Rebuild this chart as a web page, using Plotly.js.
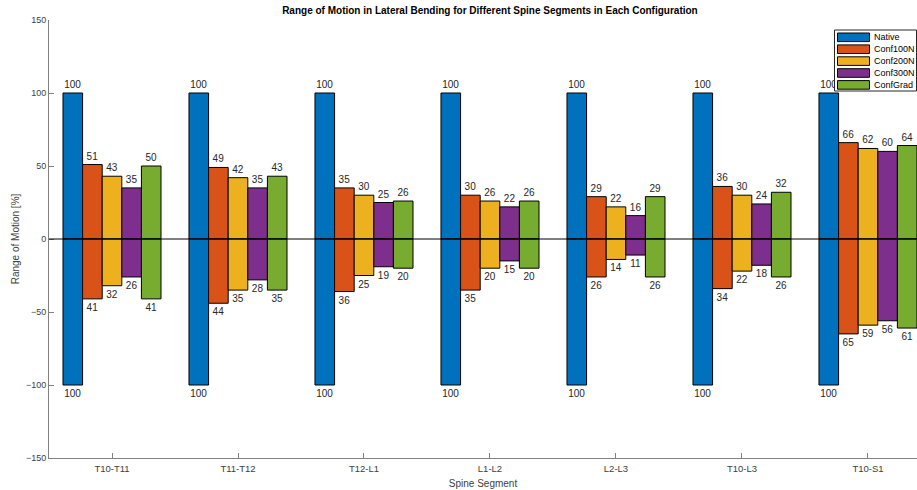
<!DOCTYPE html>
<html>
<head>
<meta charset="utf-8">
<script src="https://cdn.plot.ly/plotly-3.0.1.min.js"></script>
<style>html,body{margin:0;padding:0;overflow:hidden;background:#fff}#chart{width:917px;height:490px}</style>
</head>
<body>
<div id="chart"></div>
<script>
const segments = ["T10-T11","T11-T12","T12-L1","L1-L2","L2-L3","T10-L3","T10-S1"];
const seriesNames = ["Native","Conf100N","Conf200N","Conf300N","ConfGrad"];
// Positive side (bending to one side), %
const nativePos = [100,100,100,100,100,100,100];
const conf100Pos = [51,49,35,30,29,36,66];
const conf200Pos = [43,42,30,26,22,30,62];
const conf300Pos = [35,35,25,22,16,24,60];
const confGradPos = [50,43,26,26,29,32,64];
// Negative side magnitudes (bending to the other side), %
const nativeNeg = [100,100,100,100,100,100,100];
const conf100Neg = [41,44,36,35,26,34,65];
const conf200Neg = [32,35,25,20,14,22,59];
const conf300Neg = [26,28,19,15,11,18,56];
const confGradNeg = [41,35,20,20,26,26,61];

const posData = [nativePos, conf100Pos, conf200Pos, conf300Pos, confGradPos];
const negData = [nativeNeg, conf100Neg, conf200Neg, conf300Neg, confGradNeg];
const colors = ["#0072BD","#D95319","#EDB120","#7E2F8E","#77AC30"];

const FONT = "Liberation Sans, Arial, sans-serif";
const traces = [];
seriesNames.forEach((name, i) => {
  const common = {
    type: "bar",
    x: segments,
    offsetgroup: "g" + i,
    marker: {color: colors[i], line: {color: "#000000", width: 1}},
    textposition: "outside",
    constraintext: "none",
    cliponaxis: false,
    textfont: {family: FONT, size: 10, color: "#262626"},
    hoverinfo: "skip",
    showlegend: false
  };
  traces.push(Object.assign({}, common, {name: name, y: posData[i], text: posData[i].map(String)}));
  traces.push(Object.assign({}, common, {name: name, y: negData[i].map(v => -v), text: negData[i].map(String)}));
});

// Compact MATLAB-style legend (pixel geometry -> paper coords)
const W = 868, H = 438, L = 49, T = 20;
const px = p => (p - L) / W;
const py = p => (T + H - p) / H;
const shapes = [{
  type: "line", xref: "paper", yref: "y", x0: 0, x1: 1, y0: 0, y1: 0,
  line: {color: "#000000", width: 1}, layer: "above"
}, {
  type: "rect", xref: "paper", yref: "paper",
  x0: px(834.5), x1: px(916.5), y0: py(30), y1: py(91),
  fillcolor: "#ffffff", line: {color: "#262626", width: 1}, layer: "above"
}];
const annotations = [];
seriesNames.forEach((name, i) => {
  const cy = 37.3 + i * 11.9;
  shapes.push({
    type: "rect", xref: "paper", yref: "paper",
    x0: px(837.5), x1: px(869.5), y0: py(cy - 4.3), y1: py(cy + 4.3),
    fillcolor: colors[i], line: {color: "#000000", width: 1}, layer: "above"
  });
  annotations.push({
    xref: "paper", yref: "paper", x: px(872), y: py(cy),
    xanchor: "left", yanchor: "middle", showarrow: false,
    text: name, font: {family: FONT, size: 9, color: "#000000"}
  });
});

const layout = {
  width: 917, height: 490,
  margin: {l: 49, r: 0, t: 20, b: 32, autoexpand: false},
  paper_bgcolor: "#ffffff", plot_bgcolor: "#ffffff",
  font: {family: FONT, color: "#262626"},
  barmode: "relative",
  bargap: 0.222, bargroupgap: 0,
  showlegend: false,
  title: {
    text: "<b>Range of Motion in Lateral Bending for Different Spine Segments in Each Configuration</b>",
    font: {size: 10, color: "#000000"},
    x: 0.508, xref: "paper", xanchor: "center",
    y: 0.985, yref: "container", yanchor: "top"
  },
  xaxis: {
    type: "category",
    range: [-0.5, 6.389],
    showgrid: false, zeroline: false,
    showline: true, linecolor: "#808080", linewidth: 1,
    ticks: "inside", ticklen: 5, tickcolor: "#808080",
    tickfont: {size: 9.5, color: "#404040"},
    ticklabelstandoff: 2,
    title: {text: "Spine Segment", font: {size: 10, color: "#404040"}, standoff: 6},
    automargin: false
  },
  yaxis: {
    range: [-150, 150], dtick: 50,
    showgrid: false, zeroline: false,
    showline: true, linecolor: "#808080", linewidth: 1,
    ticks: "inside", ticklen: 5, tickcolor: "#808080",
    tickfont: {size: 9, color: "#404040"},
    title: {text: "Range of Motion [%]", font: {size: 10, color: "#404040"}, standoff: 4},
    automargin: false
  },
  shapes: shapes,
  annotations: annotations
};

Plotly.newPlot("chart", traces, layout, {displayModeBar: false, staticPlot: true});
</script>
</body>
</html>
